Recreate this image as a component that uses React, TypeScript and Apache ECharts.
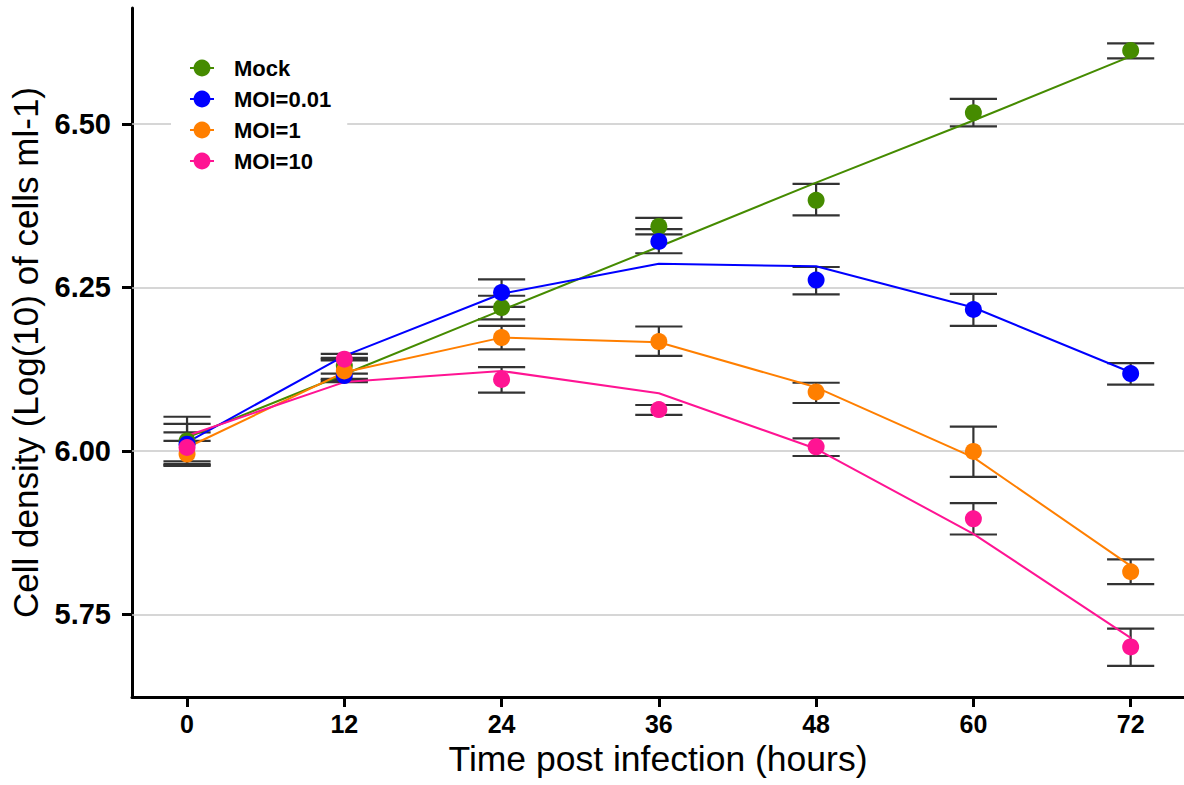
import React, { useEffect, useRef } from "react";
import * as echarts from "echarts";

const times = [0, 12, 24, 36, 48, 60, 72];
const yTicks = [5.75, 6.0, 6.25, 6.5];

const groupNames = ["Mock", "MOI=0.01", "MOI=1", "MOI=10"];
const groupColors = ["#458B00", "#0000FF", "#FF7F00", "#FF1493"];

// observed means
const mockMean = [6.015, 6.13, 6.219, 6.343, 6.383, 6.517, 6.612];
const moi001Mean = [6.01, 6.115, 6.242, 6.32, 6.261, 6.216, 6.118];
const moi1Mean = [5.995, 6.122, 6.173, 6.167, 6.09, 5.999, 5.815];
const moi10Mean = [6.005, 6.14, 6.109, 6.063, 6.006, 5.896, 5.7];

// error bar upper / lower limits
const mockUpper = [6.052, 6.142, 6.237, 6.356, 6.408, 6.538, 6.623];
const mockLower = [5.978, 6.118, 6.201, 6.331, 6.36, 6.496, 6.6];
const moi001Upper = [6.041, 6.14, 6.262, 6.339, 6.281, 6.24, 6.134];
const moi001Lower = [5.98, 6.105, 6.22, 6.302, 6.239, 6.191, 6.101];
const moi1Upper = [6.015, 6.138, 6.191, 6.19, 6.104, 6.037, 5.834];
const moi1Lower = [5.977, 6.108, 6.155, 6.145, 6.073, 5.96, 5.796];
const moi10Upper = [6.028, 6.148, 6.128, 6.07, 6.019, 5.92, 5.728];
const moi10Lower = [5.984, 6.11, 6.089, 6.055, 5.992, 5.872, 5.671];

// fitted lines
const mockFit = [6.02, 6.117, 6.215, 6.312, 6.41, 6.505, 6.603];
const moi001Fit = [6.013, 6.145, 6.24, 6.286, 6.282, 6.219, 6.12];
const moi1Fit = [6.005, 6.12, 6.173, 6.166, 6.097, 5.99, 5.824];
const moi10Fit = [6.023, 6.105, 6.122, 6.088, 6.003, 5.873, 5.714];

const means = [mockMean, moi001Mean, moi1Mean, moi10Mean];
const uppers = [mockUpper, moi001Upper, moi1Upper, moi10Upper];
const lowers = [mockLower, moi001Lower, moi1Lower, moi10Lower];
const fits = [mockFit, moi001Fit, moi1Fit, moi10Fit];

const FONT = "'Liberation Sans', Arial, Helvetica, sans-serif";
const capWidthHours = 3.6;

export default function App() {
  const ref = useRef<HTMLDivElement>(null);

  useEffect(() => {
    if (!ref.current) return;
    const chart = echarts.init(ref.current, undefined, { renderer: "svg" });

    const errSeries = groupNames.map((name, g) => ({
      type: "custom",
      name: name + " error",
      z: 3,
      silent: true,
      encode: { x: 0, y: [1, 2] },
      data: times.map((t, i) => [t, lowers[g][i], uppers[g][i]]),
      renderItem: (params: any, api: any) => {
        const x = api.value(0);
        const lo = api.value(1);
        const hi = api.value(2);
        const top = api.coord([x, hi]);
        const bot = api.coord([x, lo]);
        const half = api.size([capWidthHours, 0])[0] / 2;
        const style = { stroke: "#333333", lineWidth: 2.2 };
        return {
          type: "group",
          children: [
            { type: "line", shape: { x1: top[0], y1: top[1], x2: bot[0], y2: bot[1] }, style },
            { type: "line", shape: { x1: top[0] - half, y1: top[1], x2: top[0] + half, y2: top[1] }, style },
            { type: "line", shape: { x1: bot[0] - half, y1: bot[1], x2: bot[0] + half, y2: bot[1] }, style },
          ],
        };
      },
    }));

    const lineSeries = groupNames.map((name, g) => ({
      type: "line",
      name,
      z: 4,
      data: times.map((t, i) => [t, fits[g][i]]),
      symbol: "circle",
      symbolSize: 17,
      showSymbol: false,
      lineStyle: { color: groupColors[g], width: 2 },
      itemStyle: { color: groupColors[g] },
      silent: true,
      ...(g === 0
        ? {
            markLine: {
              silent: true,
              symbol: ["none", "none"],
              label: { show: false },
              z: 1,
              lineStyle: { color: "#c8c8c8", width: 1.5, type: "solid" },
              data: yTicks.map((v) => ({ yAxis: v })),
            },
          }
        : {}),
    }));

    const pointSeries = groupNames.map((name, g) => ({
      type: "scatter",
      name,
      z: 5,
      data: times.map((t, i) => [t, means[g][i]]),
      symbol: "circle",
      symbolSize: 17,
      itemStyle: { color: groupColors[g], opacity: 1 },
    }));

    chart.setOption({
      animation: false,
      backgroundColor: "#ffffff",
      grid: { left: 132, right: 0, top: 8, bottom: 88, containLabel: false },
      legend: {
        orient: "vertical",
        left: 171,
        top: 47,
        padding: [10, 16, 10, 18],
        backgroundColor: "#ffffff",
        itemWidth: 24,
        itemHeight: 21,
        itemGap: 9,
        data: groupNames,
        selectedMode: false,
        textStyle: {
          fontSize: 22,
          fontWeight: "bold",
          color: "#000000",
          fontFamily: FONT,
          padding: [0, 0, 0, 15],
        },
      },
      xAxis: {
        type: "value",
        min: -4.2,
        max: 76.07,
        name: "Time post infection (hours)",
        nameLocation: "middle",
        nameGap: 44,
        nameTextStyle: { fontSize: 35.5, color: "#000000", fontFamily: FONT },
        axisLine: { show: true, onZero: false, lineStyle: { color: "#000000", width: 3 } },
        axisTick: { show: true, customValues: times, length: 10, lineStyle: { color: "#000000", width: 3 } },
        axisLabel: {
          customValues: times,
          fontSize: 25,
          fontWeight: "bold",
          color: "#000000",
          fontFamily: FONT,
          margin: 14,
        },
        splitLine: { show: false },
      },
      yAxis: {
        type: "value",
        min: 5.6235,
        max: 6.677,
        name: "Cell density (Log(10) of cells ml-1)",
        nameLocation: "middle",
        nameGap: 89,
        nameTextStyle: { fontSize: 35, color: "#000000", fontFamily: FONT },
        axisLine: { show: true, onZero: false, lineStyle: { color: "#000000", width: 3 } },
        axisTick: { show: true, customValues: yTicks, length: 10, lineStyle: { color: "#000000", width: 3 } },
        axisLabel: {
          customValues: yTicks,
          formatter: (v: number) => v.toFixed(2),
          fontSize: 29,
          fontWeight: "bold",
          color: "#000000",
          fontFamily: FONT,
          margin: 21,
        },
        splitLine: { show: false },
      },
      series: [...errSeries, ...lineSeries, ...pointSeries],
    });

    return () => {
      chart.dispose();
    };
  }, []);

  return (
    <div
      ref={ref}
      style={{ position: "fixed", left: 0, top: 0, width: 1184, height: 785, background: "#fff" }}
    />
  );
}
